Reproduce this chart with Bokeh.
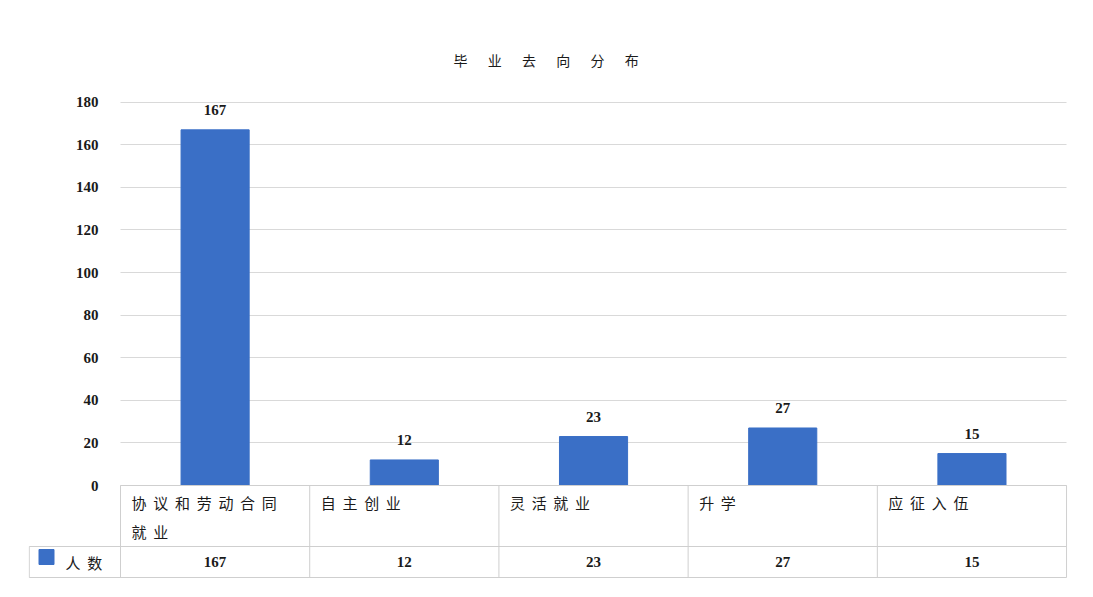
from bokeh.plotting import figure
from bokeh.models import ColumnDataSource, Range1d, LabelSet, FixedTicker, Grid, BoxAnnotation
from bokeh.embed import file_html
from bokeh.resources import INLINE
from bokeh.core.properties import value

# ---- data ----
chart_title = "毕业去向分布"
series_name = "人数"
categories = ["协议和劳动合同就业", "自主创业", "灵活就业", "升学", "应征入伍"]
counts = [167, 12, 23, 27, 15]
y_ticks = [0, 20, 40, 60, 80, 100, 120, 140, 160, 180]

BLUE = "#3A6FC6"
CJK = "Noto Sans CJK SC"
NUM = "Liberation Serif"
TXT = "#1a1a1a"
GRID = "#d9d9d9"
BORDER = "#cfcfcf"

SEP = "\u00a0\u00a0"
TSEP = "\u3000\u00a0\u00a0"


def spaced(s, sep=SEP, wrap=None):
    chars = list(s)
    if wrap:
        return "\n".join(sep.join(chars[i:i + wrap]) for i in range(0, len(chars), wrap))
    return sep.join(chars)


n = len(categories)

# ---- layout in pixels ----
W, H = 1093, 595
FL, FR = 28, 1067          # frame left / right
FT, FB = 91, 579           # frame top / bottom
X0 = 120                   # pixel of first category cell
Y0 = 485                   # pixel of value 0
YMAX = 185
ROW1, ROW2 = 61, 31

x_end = n + 0.005
u = (FR - X0) / x_end      # px per category
x_start = -(X0 - FL) / u
k = (Y0 - FT) / YMAX       # px per value unit
y_start = -(FB - Y0) / k


def px_x(px):
    return (px - X0) / u


p = figure(width=W, height=H,
           x_range=Range1d(x_start, x_end), y_range=Range1d(y_start, YMAX),
           output_backend="svg", toolbar_location=None,
           min_border_left=FL, min_border_right=W - FR, min_border_top=FT, min_border_bottom=H - FB)
p.extra_y_ranges = {"tbl": Range1d(-(FB - (Y0 + ROW1 + ROW2)), FB - FT - (FB - (Y0 + ROW1 + ROW2)))}
p.outline_line_color = None
p.xaxis.visible = False
p.xgrid.grid_line_color = None

# grid only over plot area
if "cross_bounds" in Grid.properties():
    p.ygrid.cross_bounds = (0, n)
else:
    p.add_layout(BoxAnnotation(left=x_start, right=0, bottom=0.5, top=YMAX,
                               fill_color="white", fill_alpha=1, line_color=None, level="glyph"))
p.ygrid.grid_line_color = GRID
p.ygrid.ticker = FixedTicker(ticks=y_ticks)

yax = p.yaxis[0]
yax.fixed_location = 0
yax.ticker = FixedTicker(ticks=y_ticks)
yax.major_tick_line_color = None
yax.minor_tick_line_color = None
yax.axis_line_color = None
yax.major_label_standoff = 16
yax.major_label_text_font = NUM
yax.major_label_text_font_size = "15px"
yax.major_label_text_font_style = "bold"
yax.major_label_text_color = TXT

# bars
xs = [i + 0.5 for i in range(n)]
src = ColumnDataSource(dict(x=xs, count=counts, label=[str(c) for c in counts]))
p.vbar(x="x", top="count", width=0.36, source=src, color=BLUE)
p.add_layout(LabelSet(x="x", y="count", text="label", source=src, y_offset=15,
                      text_align="center", text_baseline="bottom",
                      text_font=value(NUM), text_font_size="15px", text_font_style="bold",
                      text_color=TXT))

# title
p.title.text = spaced(chart_title, sep=TSEP)
p.title.align = "left"
p.title.offset = 453 - FL
p.title.text_font = CJK
p.title.text_font_size = "14px"
p.title.text_font_style = "normal"
p.title.text_color = TXT
p.title.standoff = 43

# ---- data table (tbl range in px, 0 = table bottom) ----
T = "tbl"
top_y = ROW1 + ROW2
hx0 = [0, x_start + 0.004, x_start + 0.004]
hy = [top_y, ROW2, 0]
p.segment(x0=hx0, y0=hy, x1=[n] * 3, y1=hy, line_color=BORDER, line_width=1, y_range_name=T)
vx = list(range(n + 1)) + [x_start + 0.004]
p.segment(x0=vx, y0=[0] * (n + 2), x1=vx, y1=[top_y] * (n + 1) + [ROW2],
          line_color=BORDER, line_width=1, y_range_name=T)

p.text(x=[i + 11 / u for i in range(n)], y=[top_y - 6] * n,
       text=[spaced(c, wrap=7) for c in categories],
       text_align="left", text_baseline="top", text_font=value(CJK),
       text_font_size="15px", text_color=TXT, text_line_height=1.4, y_range_name=T)
p.text(x=xs, y=[ROW2 / 2] * n, text=[str(c) for c in counts],
       text_align="center", text_baseline="middle", text_font=value(NUM),
       text_font_size="15px", text_font_style="bold", text_color=TXT, y_range_name=T)
p.scatter(x=[px_x(46)], y=[ROW2 / 2 + 5], marker="square", size=15, color=BLUE, y_range_name=T)
p.text(x=[px_x(65)], y=[ROW2 / 2], text=[spaced(series_name)],
       text_align="left", text_baseline="middle", text_font=value(CJK),
       text_font_size="15px", text_color=TXT, y_range_name=T)

open("out.html", "w").write(file_html(p, INLINE))
